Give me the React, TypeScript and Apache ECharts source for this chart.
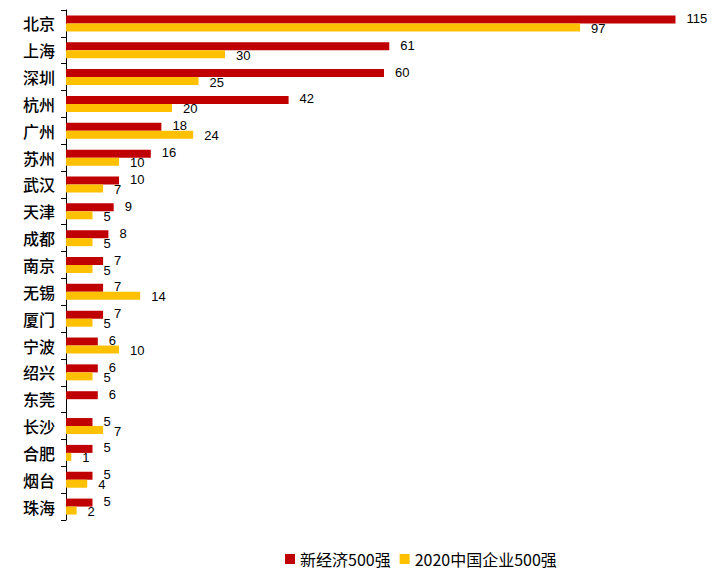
import React, { useEffect, useRef } from "react";
import * as echarts from "echarts";

const cities = ["北京", "上海", "深圳", "杭州", "广州", "苏州", "武汉", "天津", "成都", "南京", "无锡", "厦门", "宁波", "绍兴", "东莞", "长沙", "合肥", "烟台", "珠海"];
const newEconomy = [115, 61, 60, 42, 18, 16, 10, 9, 8, 7, 7, 7, 6, 6, 6, 5, 5, 5, 5];
const top500_2020: (number | null)[] = [97, 30, 25, 20, 24, 10, 7, 5, 5, 5, 14, 5, 10, 5, null, 7, 1, 4, 2];

export default function App() {
  const ref = useRef<HTMLDivElement>(null);
  useEffect(() => {
    if (!ref.current) return;
    const chart = echarts.init(ref.current, null, { renderer: "svg" });
    const labelStyle = (dy: number) => ({
      show: true,
      position: "right" as const,
      distance: 11,
      offset: [0, dy],
      color: "#000",
      fontSize: 13,
      fontFamily: "Liberation Sans, Arial, sans-serif",
    });
    chart.setOption({
      animation: false,
      backgroundColor: "#fff",
      grid: { left: 66, right: 24, top: 10, bottom: 57, containLabel: false },
      legend: {
        left: 280,
        top: 546,
        itemWidth: 10,
        itemHeight: 10,
        itemGap: 9,
        icon: "rect",
        textStyle: { fontSize: 16, color: "#000", fontFamily: "Noto Sans CJK SC, sans-serif" },
        data: ["新经济500强", "2020中国企业500强"],
      },
      xAxis: {
        type: "value",
        min: 0,
        max: 120,
        show: false,
      },
      yAxis: {
        type: "category",
        inverse: true,
        data: cities,
        axisLine: { show: true, lineStyle: { color: "#000", width: 1 } },
        axisTick: { show: true, length: 5, lineStyle: { color: "#000" } },
        axisLabel: {
          margin: 11,
          fontSize: 16,
          fontWeight: 500,
          color: "#000",
          fontFamily: "Noto Sans CJK SC, sans-serif",
        },
        splitLine: { show: false },
      },
      series: [
        {
          name: "新经济500强",
          type: "bar",
          data: newEconomy,
          barWidth: 8,
          barGap: "0%",
          itemStyle: { color: "#C00000" },
          label: labelStyle(-1),
        },
        {
          name: "2020中国企业500强",
          type: "bar",
          data: top500_2020,
          barWidth: 8,
          barGap: "0%",
          itemStyle: { color: "#FFC000" },
          label: labelStyle(1),
        },
      ],
    });
    return () => chart.dispose();
  }, []);
  return <div ref={ref} style={{ width: 726, height: 577, position: "absolute", left: 0, top: 0 }} />;
}
